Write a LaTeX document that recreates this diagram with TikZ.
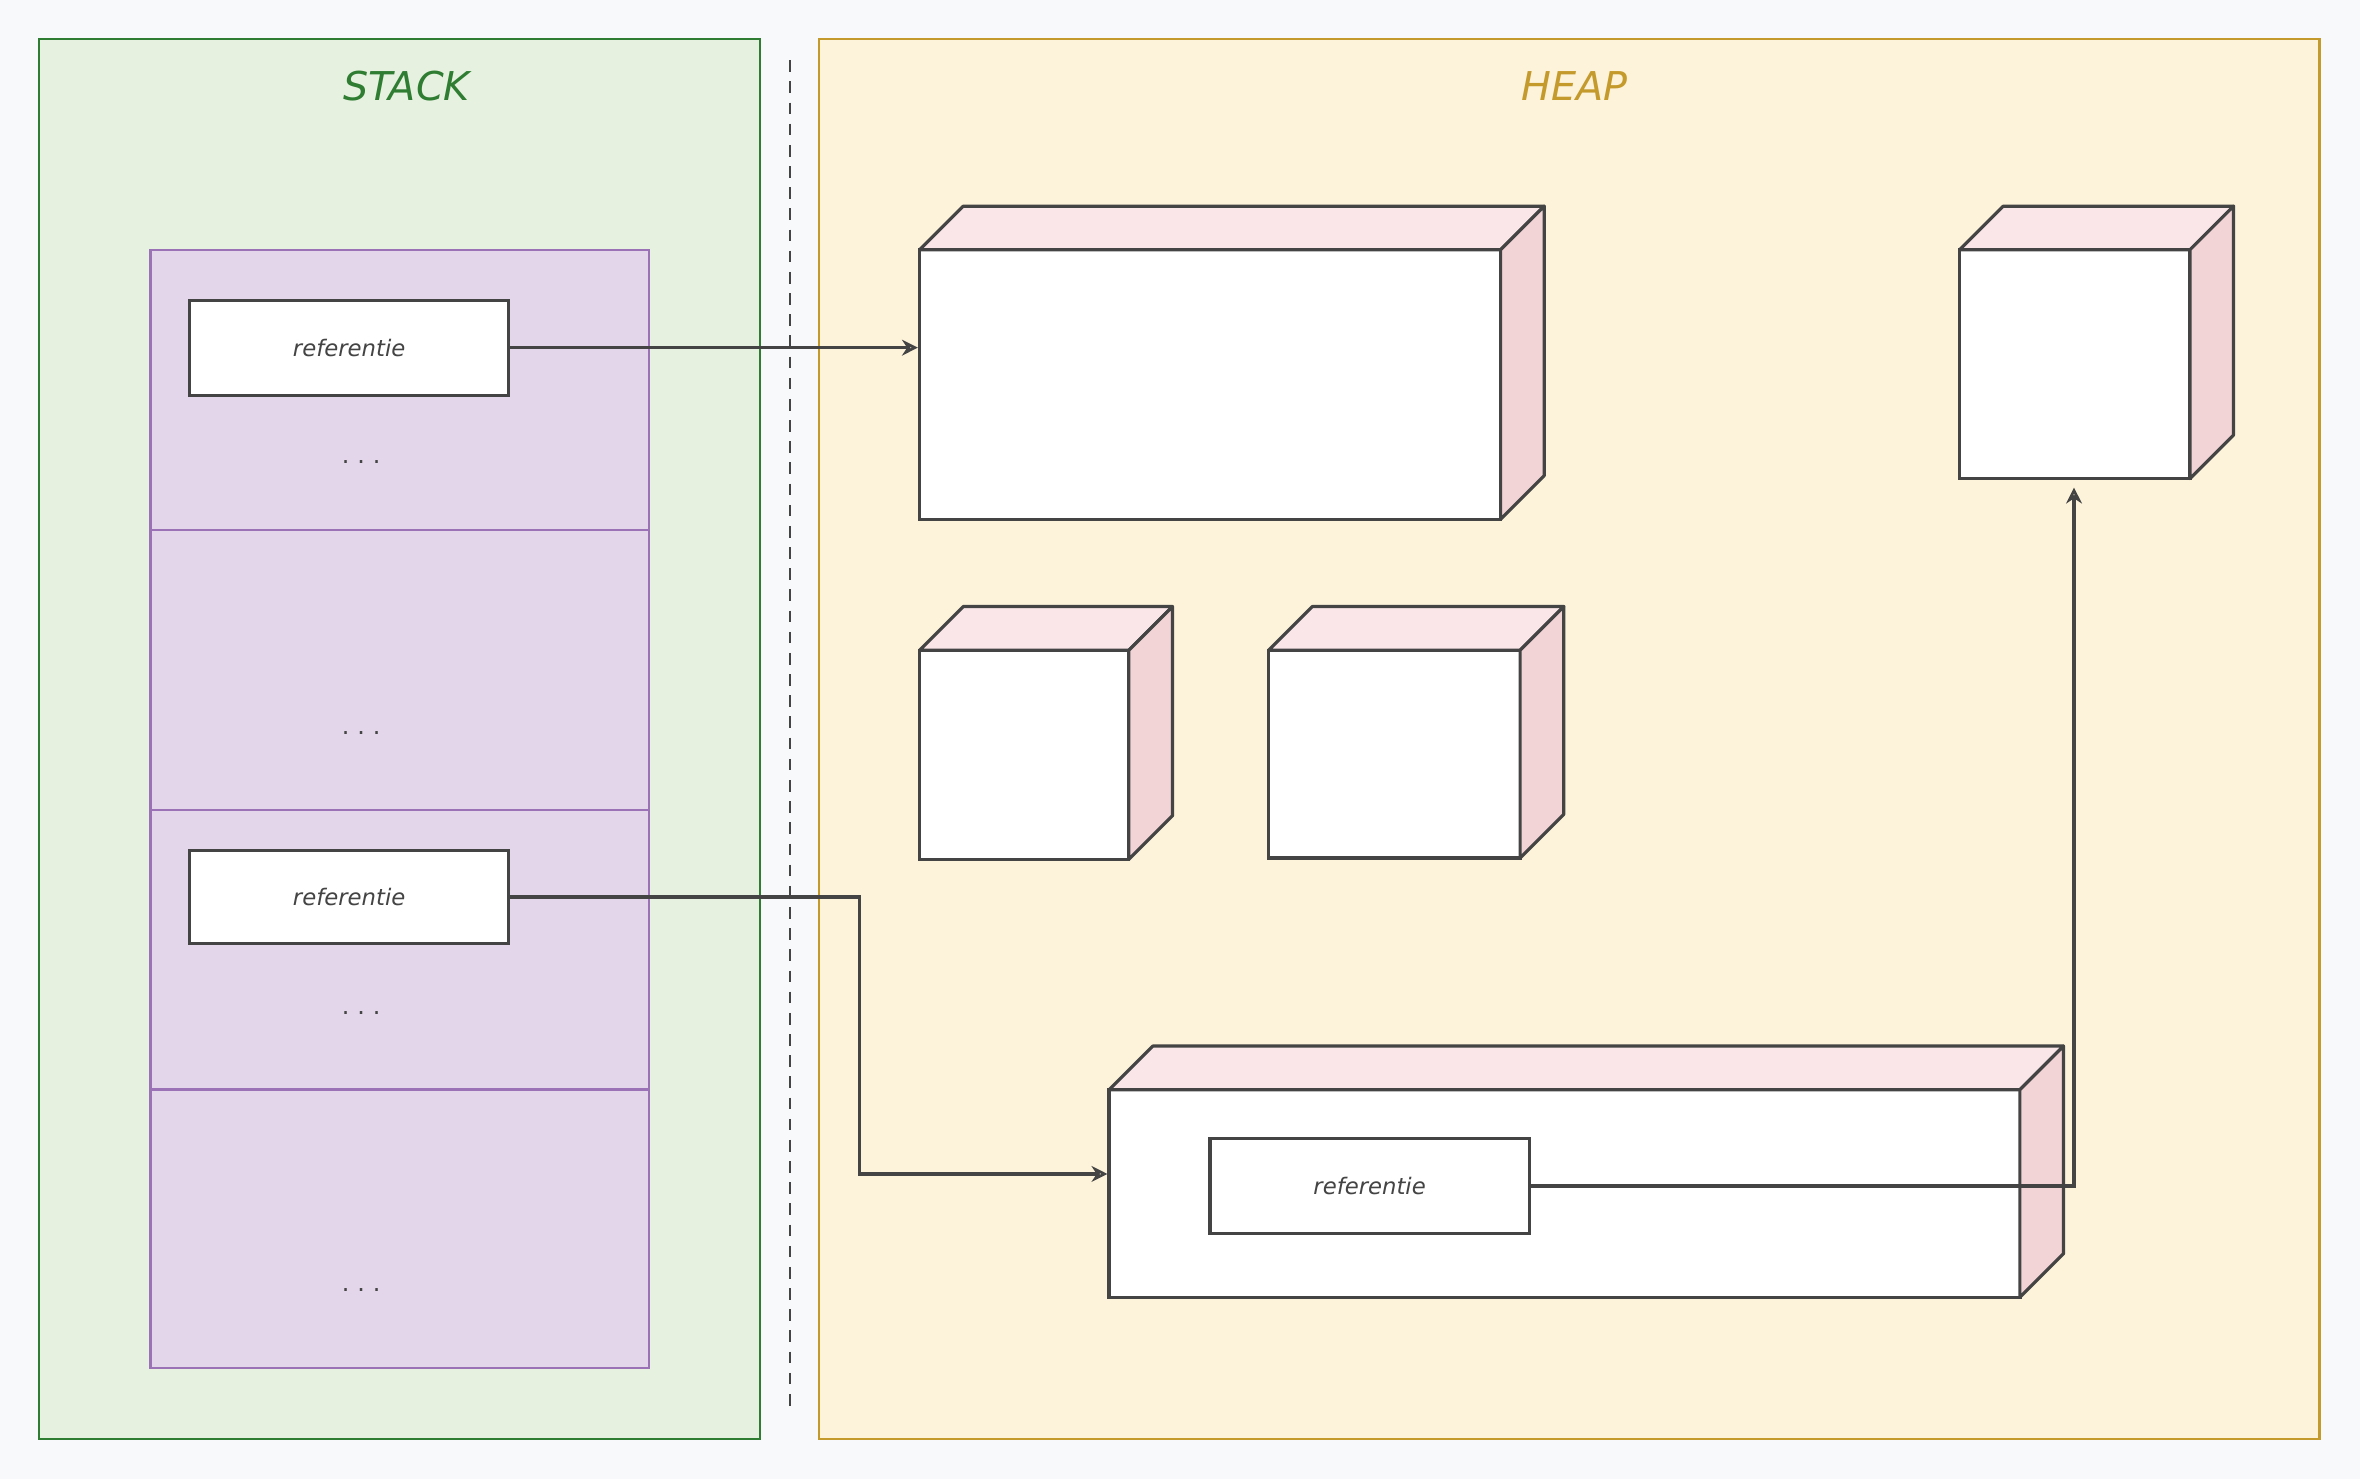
\documentclass[tikz,border=0pt]{standalone}
\usepackage{fontspec}
\setmainfont{DejaVu Sans}
\usetikzlibrary{arrows.meta}
\definecolor{bg}{HTML}{F8F9FA}
\definecolor{stk}{HTML}{E6F2DF}
\definecolor{stkd}{HTML}{2F7D32}
\definecolor{hp}{HTML}{FDF2DA}
\definecolor{hpd}{HTML}{C49A2C}
\definecolor{pur}{HTML}{E3D5EA}
\definecolor{purd}{HTML}{9B72B5}
\definecolor{topf}{HTML}{FAE6E8}
\definecolor{sidef}{HTML}{F2D4D6}
\definecolor{ink}{HTML}{444444}
\tikzset{
  x=0.01cm,y=-0.01cm,
  ref/.style={draw=ink,line width=0.6pt,fill=white,font=\itshape\fontsize{4.3}{5}\selectfont,text=ink},
  front/.style={draw=ink,line width=0.6pt,fill=white},
  face/.style={draw=ink,line width=0.6pt,line join=round},
  conn/.style={draw=ink,line width=0.6pt,-{Stealth[length=3pt,width=3pt,open]}},
  dots/.style={font=\fontsize{4.5}{5}\selectfont,text=ink},
  title/.style={font=\itshape\fontsize{7.5}{9}\selectfont},
}
\newcommand{\cube}[5]{% name, x1,y1,x2,y2
  \pgfmathsetmacro{\cw}{(#4-#2)/100}
  \pgfmathsetmacro{\ch}{(#5-#3)/100}
  \node[front,inner sep=0,minimum width=\cw cm,minimum height=\ch cm] (#1) at ({(#2+#4)/2},{(#3+#5)/2}) {};
  \draw[face,fill=topf] (#2,#3) -- (#2+29,#3-29) -- (#4+29,#3-29) -- (#4,#3) -- cycle;
  \draw[face,fill=sidef] (#4,#3) -- (#4+29,#3-29) -- (#4+29,#5-29) -- (#4,#5) -- cycle;
}
\begin{document}
\begin{tikzpicture}
\fill[bg] (0,0) rectangle (1568,983);
\draw[stkd,fill=stk,line width=0.45pt] (26,26) rectangle (505,956);
\node[text=stkd,title] (st) at (270,57) {STACK};
\draw[hpd,fill=hp,line width=0.45pt] (544,26) rectangle (1541,956);
\node[text=hpd,title] (hpt) at (1046,57) {HEAP};
\draw[ink,line width=0.45pt,dash pattern=on 2.2pt off 1.8pt] (525,40) -- (525,940);
\draw[purd,fill=pur,line width=0.45pt] (100,166) rectangle (431,909);
\foreach \y in {352,538,724} \draw[purd,line width=0.45pt] (100,\y) -- (431,\y);
\node[ref,minimum width=2.12cm,minimum height=0.63cm] (r1) at (232,231) {referentie};
\node[ref,minimum width=2.12cm,minimum height=0.62cm] (r2) at (232,596) {referentie};
\node[dots] (d1) at (240,307) {.\,\,.\,\,.};
\node[dots] (d2) at (240,487) {.\,\,.\,\,.};
\node[dots] (d3) at (240,673) {.\,\,.\,\,.};
\node[dots] (d4) at (240,857) {.\,\,.\,\,.};
\cube{c1}{611}{166}{997}{345}
\cube{c2}{1302}{166}{1455}{318}
\cube{c3}{611}{432}{750}{571}
\cube{c4}{843}{432}{1010}{570}
\cube{c5}{737}{724}{1342}{862}
\node[ref,minimum width=2.12cm,minimum height=0.63cm] (r3) at (910,788) {referentie};
\draw[conn] (r1.east) -- (c1.west |- r1.east);
\coordinate (b1) at (571,596);
\coordinate (b2) at (571,780);
\draw[conn] (r2.east) -- (b1) -- (b2) -- (c5.west |- b2);
\coordinate (b3) at (1378,788);
\coordinate (b4) at (1378,324);
\draw[conn] (r3.east) -- (b3) -- (b4);
\end{tikzpicture}
\end{document}
